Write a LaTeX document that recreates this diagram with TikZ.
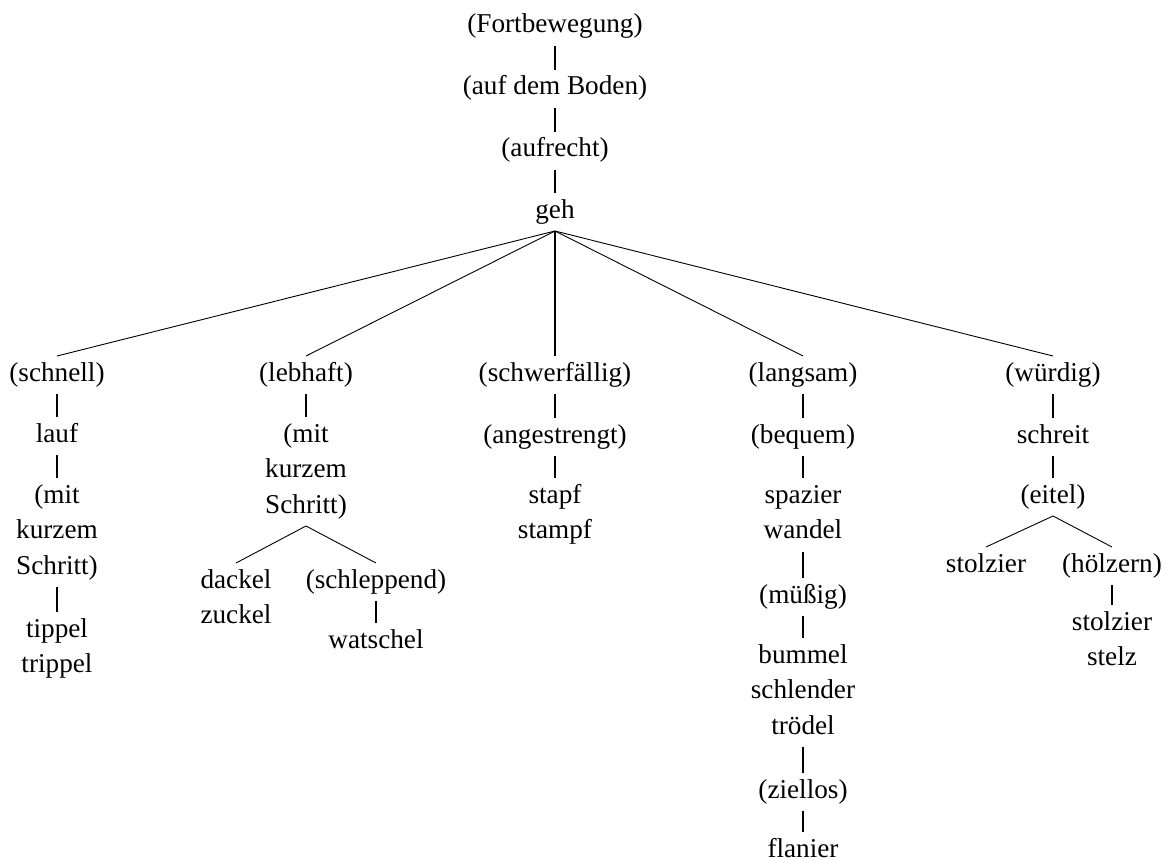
\documentclass[tikz,border=0pt]{standalone}
\usepackage{fontspec}
\setmainfont{Liberation Serif}
% stacked lines inside one tree node, aligned on the first baseline
\newcommand\mlstack[1]{\begin{tabular}[t]{@{}c@{}}#1\end{tabular}}
\tikzset{
  word/.style={inner sep=0pt, outer sep=0pt, anchor=base,
    text height=25pt, text depth=13pt,
    font=\fontsize{27.2}{35.5}\selectfont},
  twolines/.style={text depth=48.5pt},
  threelines/.style={text depth=84pt},
  stem/.style={line width=1.8pt},
  branch/.style={line width=0.9pt},
}
\begin{document}
\begin{tikzpicture}[x=1pt, y=-1pt]
\useasboundingbox (0,0) rectangle (1166,861);

% trunk
\node[word] (fort)  at (555,33)  {(Fortbewegung)};
\node[word] (boden) at (555,95)  {(auf dem Boden)};
\node[word] (aufr)  at (555,157) {(aufrecht)};
\node[word] (geh)   at (555,218) {geh};

% first level
\node[word] (schnell) at (57,381)   {(schnell)};
\node[word] (lebhaft) at (306,381)  {(lebhaft)};
\node[word] (schwer)  at (555,381)  {(schwerfällig)};
\node[word] (langsam) at (803,381)  {(langsam)};
\node[word] (wuerdig) at (1053,381) {(würdig)};

% schnell
\node[word] (lauf)   at (57,442) {lauf};
\node[word, threelines] (mitA) at (57,503) {\mlstack{(mit\\kurzem\\Schritt)}};
\node[word, twolines] (tippel) at (57,637) {\mlstack{tippel\\trippel}};

% lebhaft
\node[word, threelines] (mitB) at (306,442) {\mlstack{(mit\\kurzem\\Schritt)}};
\node[word, twolines] (dackel) at (236,588) {\mlstack{dackel\\zuckel}};
\node[word] (schlepp)  at (376,588) {(schleppend)};
\node[word] (watschel) at (376,648) {watschel};

% schwerfaellig
\node[word] (angestr) at (555,443) {(angestrengt)};
\node[word, twolines] (stapf) at (555,503) {\mlstack{stapf\\stampf}};

% langsam
\node[word] (bequem) at (803,443) {(bequem)};
\node[word, twolines] (spazier) at (803,503) {\mlstack{spazier\\wandel}};
\node[word] (muessig) at (803,603) {(müßig)};
\node[word, threelines] (bummel) at (803,663) {\mlstack{bummel\\schlender\\trödel}};
\node[word] (ziellos) at (803,798) {(ziellos)};
\node[word] (flanier) at (803,857) {flanier};

% wuerdig
\node[word] (schreit)  at (1053,443) {schreit};
\node[word] (eitel)    at (1053,503) {(eitel)};
\node[word] (stolzier) at (986,572)  {stolzier};
\node[word] (hoelzern) at (1112,572) {(hölzern)};
\node[word, twolines] (stelz) at (1112,630) {\mlstack{stolzier\\stelz}};

% vertical stems
\foreach \a/\b in {fort/boden, boden/aufr, aufr/geh, geh/schwer,
    schnell/lauf, lauf/mitA, mitA/tippel,
    lebhaft/mitB, schlepp/watschel,
    schwer/angestr, angestr/stapf,
    langsam/bequem, bequem/spazier, spazier/muessig, muessig/bummel,
    bummel/ziellos, ziellos/flanier,
    wuerdig/schreit, schreit/eitel, hoelzern/stelz}
  \draw[stem] (\a.south) -- (\b.north);

% slanted branches
\foreach \b in {schnell, lebhaft, langsam, wuerdig}
  \draw[branch] (geh.south) -- (\b.north);
\draw[branch] (mitB.south) -- (dackel.north);
\draw[branch] (mitB.south) -- (schlepp.north);
\draw[branch] (eitel.south) -- (stolzier.north);
\draw[branch] (eitel.south) -- (hoelzern.north);
\end{tikzpicture}
\end{document}
